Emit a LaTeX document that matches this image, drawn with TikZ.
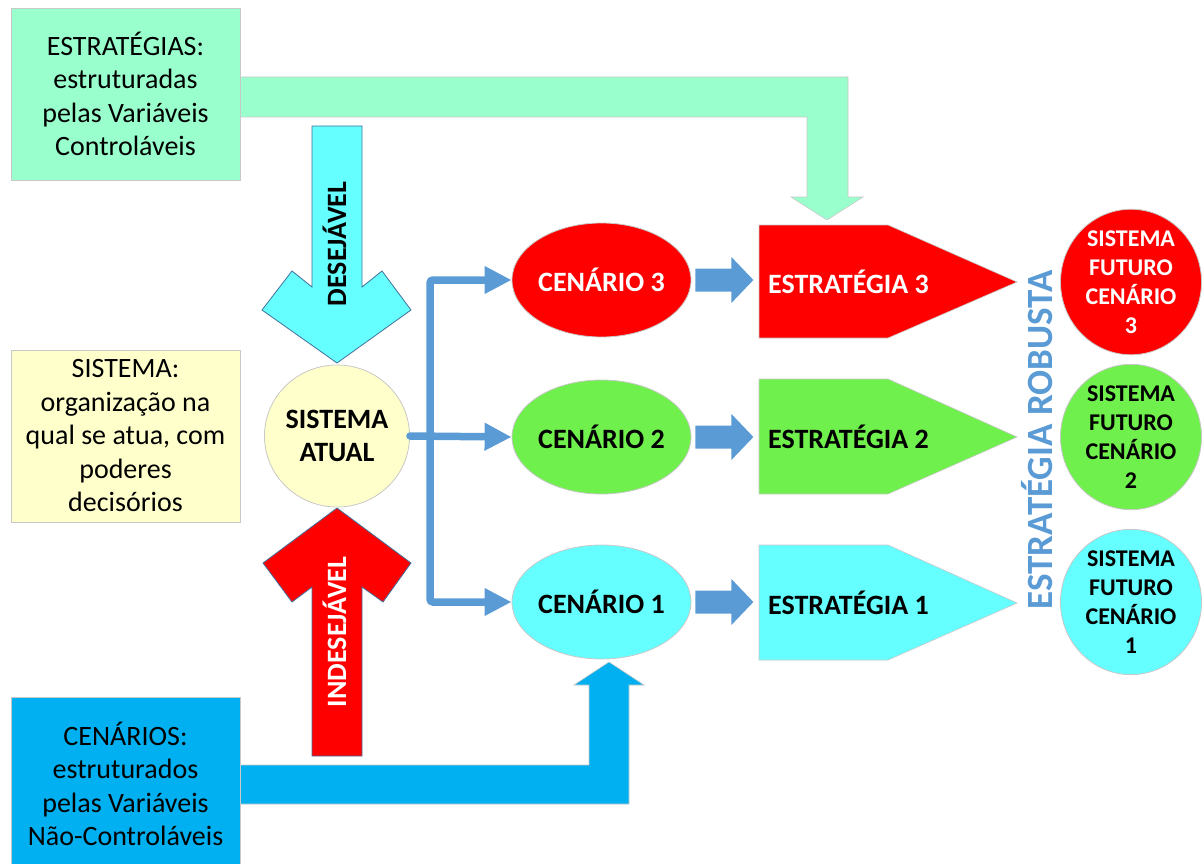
\documentclass[tikz,border=0pt]{standalone}
\usepackage{fontspec}
\setmainfont{Carlito}
\usetikzlibrary{shapes.geometric,arrows.meta,calc}
\definecolor{mint}{HTML}{99FFCC}
\definecolor{aqua}{HTML}{66FFFF}
\definecolor{bred}{HTML}{FF0000}
\definecolor{lgreen}{HTML}{70F04C}
\definecolor{sky}{HTML}{00B0F0}
\definecolor{cream}{HTML}{FFFFCC}
\definecolor{conncol}{HTML}{5B9BD5}
\definecolor{edgegray}{HTML}{C8C8C8}
\definecolor{darkedge}{HTML}{41719C}
\tikzset{
  infobox/.style={draw=edgegray, line width=0.8pt, minimum width=229pt, minimum height=172pt, align=center, inner sep=0pt, font=\fontsize{28}{33.5}\selectfont},
  cenario/.style={ellipse, draw=edgegray, line width=0.8pt, minimum width=177pt, minimum height=114pt, inner sep=0pt, font=\bfseries\fontsize{28}{33.5}\selectfont},
  futuro/.style={ellipse, draw=edgegray, line width=0.8pt, minimum width=141pt, minimum height=142pt, inner sep=0pt, align=center, font=\bfseries\fontsize{24}{29}\selectfont},
  estlabel/.style={anchor=west, inner sep=0pt, font=\bfseries\fontsize{28}{33.5}\selectfont},
  estshape/.style={draw=edgegray, line width=0.6pt},
  conn/.style={draw=conncol, line width=7.5pt, rounded corners=3pt, -{Triangle[length=27pt,width=26pt]}},
  smallarrow/.style={fill=conncol},
  bigarrow/.style={draw=darkedge, line width=0.8pt},
  vlabel/.style={rotate=90, anchor=base, inner sep=0pt, font=\bfseries\fontsize{28}{33.5}\selectfont},
}
\begin{document}
\begin{tikzpicture}[x=1pt,y=-1pt]
\useasboundingbox (0,0) rectangle (1202,864);

% bent arrows (mint and blue)
\path[fill=mint, draw=edgegray, line width=0.6pt]
  (240,77) -- (848,77) -- (848,197) -- (863,197) -- (827,220) -- (791,197) -- (807,197) -- (807,117) -- (240,117) -- cycle;
\path[fill=sky, draw=edgegray, line width=0.6pt]
  (240,765) -- (589,765) -- (589,685) -- (574,685) -- (609,662) -- (644,685) -- (629,685) -- (629,804) -- (240,804) -- cycle;

% left info boxes
\node[infobox, fill=mint] (strat) at (125.5,94) {ESTRATÉGIAS:\\estruturadas\\pelas Variáveis\\Controláveis};
\node[infobox, fill=cream] (sist) at (125.5,436) {SISTEMA:\\organização na\\qual se atua, com\\poderes\\decisórios};
\node[infobox, fill=sky, anchor=north] (cen) at (125.5,697) {};
\node[align=center, font=\fontsize{28}{33.5}\selectfont] (centxt) at (125.5,784) {CENÁRIOS:\\estruturados\\pelas Variáveis\\Não-Controláveis};

% DESEJAVEL arrow
\path[fill=aqua, bigarrow] (312,126) -- (362,126) -- (362,287) -- (382,271) -- (411,310) -- (337,363) -- (262,310) -- (292,271) -- (312,287) -- cycle;
\node[vlabel] (desej) at (346,244) {DESEJÁVEL};

% INDESEJAVEL arrow
\path[fill=bred, bigarrow] (312,756) -- (312,587) -- (292,602) -- (263,563) -- (337,508) -- (411,563) -- (383,602) -- (362,587) -- (362,756) -- cycle;
\node[vlabel, text=white] (indesej) at (346,632) {INDESEJÁVEL};

% current system
\node[ellipse, draw=edgegray, line width=0.8pt, fill=cream, minimum width=142pt, minimum height=142pt, inner sep=0pt, align=center, font=\bfseries\fontsize{28}{33}\selectfont] (atual) at (337,436) {SISTEMA\\ATUAL};

% scenarios
\node[cenario, fill=bred, text=white] (c3) at (601.5,280) {CENÁRIO 3};
\node[cenario, fill=lgreen] (c2) at (601.5,437) {CENÁRIO 2};
\node[cenario, fill=aqua] (c1) at (601.5,602) {CENÁRIO 1};

% connectors
\coordinate (ej) at (430,437);
\draw[conn, line cap=round] (atual.east) -- (c2.west);
\draw[conn] (ej) |- (c3.west);
\draw[conn] (ej) |- (c1.west);

% strategies (pentagons)
\path[estshape, fill=bred] (759,225) -- (888,225) -- (1017,282) -- (888,338) -- (759,338) -- cycle;
\node[estlabel, text=white] (e3) at (768,282) {ESTRATÉGIA 3};
\path[estshape, fill=lgreen] (759,379) -- (888,379) -- (1017,437) -- (888,494) -- (759,494) -- cycle;
\node[estlabel] (e2) at (768,437) {ESTRATÉGIA 2};
\path[estshape, fill=aqua] (759,545) -- (888,545) -- (1017,603) -- (888,660) -- (759,660) -- cycle;
\node[estlabel] (e1) at (768,603) {ESTRATÉGIA 1};

% small block arrows
\foreach \c in {c3, c2, c1}{
  \path[smallarrow] ($(\c.east)+(4,0)$) ++(0,-11.5) -- ++(36,0) -- ++(0,-11.5) -- ++(22,23) -- ++(-22,23) -- ++(0,-11.5) -- ++(-36,0) -- cycle;
}

% future systems
\node[futuro, fill=bred, text=white] (f3) at (1131,282) {SISTEMA\\FUTURO\\CENÁRIO\\3};
\node[futuro, fill=lgreen] (f2) at (1131,437) {SISTEMA\\FUTURO\\CENÁRIO\\2};
\node[futuro, fill=aqua] (f1) at (1131,602) {SISTEMA\\FUTURO\\CENÁRIO\\1};

% robust strategy label
\node[rotate=90, anchor=base, inner sep=0pt, text=conncol, font=\bfseries\fontsize{37}{44}\selectfont] (robusta) at (1052,440) {ESTRATÉGIA ROBUSTA};
\end{tikzpicture}
\end{document}
